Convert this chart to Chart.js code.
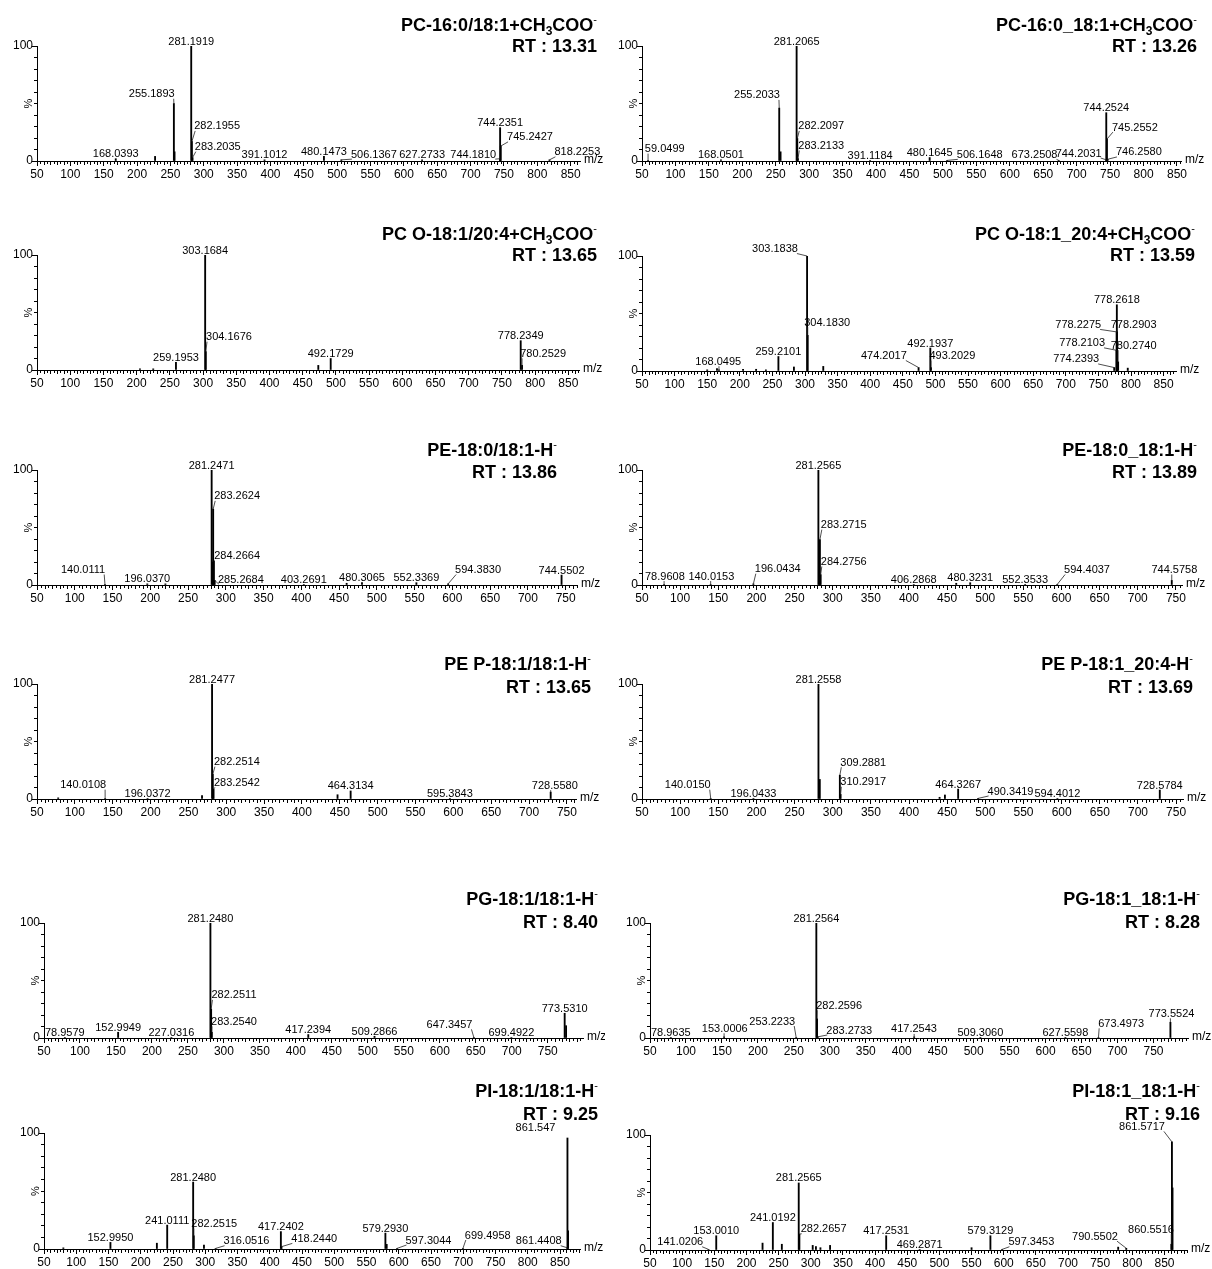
<!DOCTYPE html>
<html>
<head>
<meta charset="utf-8">
<script src="https://cdn.jsdelivr.net/npm/chart.js@4.4.1/dist/chart.umd.min.js"></script>
<style>
  html, body { margin: 0; padding: 0; background: #fff; overflow: hidden; }
  body { width: 1212px; height: 1269px; position: relative; }
  canvas { position: absolute; }
</style>
</head>
<body>
<script>
// ---- spectra: m/z, relative intensity (%), peak label ----
const s1Mz  = [168.04, 227.0, 255.19, 256.2, 281.19, 282.20, 283.20, 391.10, 480.15, 506.14, 627.27, 744.18, 744.24, 745.24, 818.23];
const s1Int = [2, 4, 50, 8, 100, 17, 3, 1, 4, 1, 1, 2, 29, 13, 1];
const s1Lab = ['168.0393', '', '255.1893', '', '281.1919', '282.1955', '283.2035', '391.1012', '480.1473', '506.1367', '627.2733', '744.1810', '744.2351', '745.2427', '818.2253'];

const s2Mz  = [59.05, 168.05, 255.20, 257.2, 281.21, 282.21, 283.21, 391.12, 480.16, 506.16, 673.25, 744.20, 744.25, 745.26, 746.26];
const s2Int = [0.5, 1, 46, 8, 100, 19.6, 2, 0.5, 3, 0.5, 0.5, 1, 42, 19, 1.5];
const s2Lab = ['59.0499', '168.0501', '255.2033', '', '281.2065', '282.2097', '283.2133', '391.1184', '480.1645', '506.1648', '673.2508', '744.2031', '744.2524', '745.2552', '746.2580'];

const s3Mz  = [205, 225, 259.20, 303.17, 304.17, 473.5, 492.17, 778.23, 780.25];
const s3Int = [1, 1, 6.7, 100, 16, 4, 10, 25.5, 4];
const s3Lab = ['', '', '259.1953', '303.1684', '304.1676', '', '492.1729', '778.2349', '780.2529'];

const s4Mz  = [150, 165, 168.05, 205, 225, 240, 259.21, 283, 303.18, 304.18, 328, 474.20, 492.19, 493.20, 774.24, 777.8, 778.0, 778.26, 778.5, 780.27, 795];
const s4Int = [1, 2, 1, 1.5, 1.5, 1, 12.6, 3.5, 100, 31, 4, 3, 20, 3, 3, 18, 34, 57.6, 34, 8, 2.5];
const s4Lab = ['', '', '168.0495', '', '', '', '259.2101', '', '303.1838', '304.1830', '', '474.2017', '492.1937', '493.2029', '774.2393', '778.2103', '778.2275', '778.2618', '778.2903', '780.2740', ''];

const s5Mz  = [140.01, 196.04, 220, 281.25, 282.25, 283.26, 284.27, 285.27, 403.27, 460, 480.31, 552.34, 594.38, 744.55];
const s5Int = [0.5, 1, 1, 100, 20, 66, 21, 4, 0.5, 1.5, 2, 2, 1, 8.6];
const s5Lab = ['140.0111', '196.0370', '', '281.2471', '', '283.2624', '284.2664', '285.2684', '403.2691', '', '480.3065', '552.3369', '594.3830', '744.5502'];

const s6Mz  = [78.96, 140.02, 196.04, 281.26, 282.26, 283.27, 284.28, 406.29, 462, 480.32, 552.35, 594.40, 744.58];
const s6Int = [0.5, 0.5, 1, 100, 9, 39.5, 9, 0.5, 1.5, 2, 0.5, 0.5, 4];
const s6Lab = ['78.9608', '140.0153', '196.0434', '281.2565', '', '283.2715', '284.2756', '406.2868', '', '480.3231', '552.3533', '594.4037', '744.5758'];

const s7Mz  = [78, 140.01, 196.04, 268, 281.25, 282.25, 283.25, 447, 464.31, 595.38, 728.56];
const s7Int = [1, 0.5, 0.5, 3, 100, 21.5, 8.6, 3.7, 7, 0.5, 6];
const s7Lab = ['', '140.0108', '196.0372', '', '281.2477', '282.2514', '283.2542', '', '464.3134', '595.3843', '728.5580'];

const s8Mz  = [140.02, 196.04, 281.26, 283, 309.29, 310.29, 440, 447, 464.33, 490.34, 594.40, 728.58];
const s8Int = [0.5, 0.5, 100, 17, 20.7, 4, 1.5, 3.5, 8.6, 0.5, 0.5, 7.8];
const s8Lab = ['140.0150', '196.0433', '281.2558', '', '309.2881', '310.2917', '', '', '464.3267', '490.3419', '594.4012', '728.5784'];

const s9Mz  = [78.96, 153.0, 227.03, 281.25, 282.25, 283.25, 417.24, 509.29, 647.35, 699.49, 773.53, 775.5];
const s9Int = [0.5, 5, 0.5, 100, 25, 5, 3, 1.5, 0.5, 0.5, 21.5, 10.7];
const s9Lab = ['78.9579', '152.9949', '227.0316', '281.2480', '282.2511', '283.2540', '417.2394', '509.2866', '647.3457', '699.4922', '773.5310', ''];

const s10Mz  = [78.96, 153.0, 253.22, 281.26, 282.26, 283.27, 417.25, 509.31, 627.56, 673.50, 773.55];
const s10Int = [0.5, 1, 0.5, 100, 16.6, 1, 1, 0.5, 0.5, 0.5, 13.7];
const s10Lab = ['78.9635', '153.0006', '253.2233', '281.2564', '282.2596', '283.2733', '417.2543', '509.3060', '627.5598', '673.4973', '773.5524'];

const s11Mz  = [80, 153.0, 225, 241.01, 281.25, 282.25, 298, 316.05, 417.24, 418.24, 579.29, 581.3, 597.30, 699.50, 861.44, 861.55, 862.55];
const s11Int = [1, 5.7, 5, 20.6, 57.7, 11.4, 3.4, 0.5, 15, 2, 13.7, 4, 0.5, 0.5, 1, 95.7, 15.7];
const s11Lab = ['', '152.9950', '', '241.0111', '281.2480', '282.2515', '', '316.0516', '417.2402', '418.2440', '579.2930', '', '597.3044', '699.4958', '861.4408', '861.547', ''];

const s12Mz  = [141.02, 153.0, 225, 241.02, 255, 281.26, 282.27, 303, 308, 315, 330, 417.25, 469.29, 550, 579.31, 597.35, 778, 790.55, 860.55, 861.57, 862.5];
const s12Int = [0.5, 12.4, 6, 23.9, 5, 58.3, 13.8, 4, 3, 2, 4, 12.4, 0.5, 2, 12.4, 0.5, 2.5, 1.5, 5, 94, 54];
const s12Lab = ['141.0206', '153.0010', '', '241.0192', '', '281.2565', '282.2657', '', '', '', '', '417.2531', '469.2871', '', '579.3129', '597.3453', '', '790.5502', '860.5516', '861.5717', ''];

// ~x = subscript, ^x = superscript
const titles = ['PC-16:0/18:1+CH~3COO^-', 'PC-16:0_18:1+CH~3COO^-', 'PC O-18:1/20:4+CH~3COO^-', 'PC O-18:1_20:4+CH~3COO^-',
  'PE-18:0/18:1-H^-', 'PE-18:0_18:1-H^-', 'PE P-18:1/18:1-H^-', 'PE P-18:1_20:4-H^-',
  'PG-18:1/18:1-H^-', 'PG-18:1_18:1-H^-', 'PI-18:1/18:1-H^-', 'PI-18:1_18:1-H^-'];
const rtValues = ['13.31', '13.26', '13.65', '13.59', '13.86', '13.89', '13.65', '13.69', '8.40', '8.28', '9.25', '9.16'];

// ---- label placement: [label centre m/z, label bottom %, leader?] ; null = just above the peak ----
const place = [
  [null, null, [222, 55], null, null, [320, 27], [321, 9], null, null, [555, 2.5], null, [704, 2.5], null, [789, 17.5], [860, 4.5]],
  [[84, 7.3], null, [222, 54], null, null, [318, 27], [318, 10], null, null, [555, 2.3], [637, 2.3], [703, 3.5], null, [787, 26], [793, 4.4]],
  [null, null, null, null, [339, 25.5], null, null, null, [812, 11]],
  [null, null, [167, 5], null, null, null, null, null, [254, 103], [334, 39], null, [421, 10], null, [526, 10], [716, 7], [725, 21], [719, 37], null, [804, 37], [804, 19], null],
  [[111, 10], null, null, null, null, [315, 74], [315, 22], [320, 1.5], null, null, null, null, [634, 10], null],
  [[80, 4.3], [141, 4.3], [228, 10.7], null, null, [314.5, 49], [314.5, 17], null, null, null, null, [633.5, 10], [748, 10]],
  [null, [111, 9], null, null, null, [314, 29], [314, 11], null, null, null, [734, 8.6]],
  [[110, 9], null, null, null, [340, 28.5], [340, 11.5], null, null, null, [533, 3.5], null, null],
  [null, null, null, null, [314, 34], [314, 11], null, null, [613.5, 8.4], null, null, null],
  [null, [154, 5], [220, 11.3], null, [313, 25], [327, 3.5], [417, 4.4], null, null, [705, 9.3], [775, 18]],
  [null, null, null, null, null, [314, 18.6], null, [364, 3.7], null, [469, 5.7], null, null, [646, 4.3], [738, 8.6], [817, 3.7], [812, 101, false], null],
  [[97, 3.7], null, null, null, null, null, [320, 15], null, null, null, null, null, null, null, null, [643, 3.7], null, [742, 8.6], [829, 14.7], [815, 104], null]
];

// ---- panel frames (page pixels) ----
const frames = [
  { col: 0,   ax: 37,  end: 580,  xmax: 864, top: 46,   bot: 161,  tr: 597,  ty: 24,   ry: 45 },
  { col: 605, ax: 642, end: 1181, xmax: 856, top: 46,   bot: 161,  tr: 1197, ty: 24,   ry: 45 },
  { col: 0,   ax: 37,  end: 579,  xmax: 866, top: 255,  bot: 370,  tr: 597,  ty: 233,  ry: 254 },
  { col: 605, ax: 642, end: 1176, xmax: 869, top: 256,  bot: 371,  tr: 1195, ty: 233,  ry: 254 },
  { col: 0,   ax: 37,  end: 577,  xmax: 765, top: 470,  bot: 585,  tr: 557,  ty: 449,  ry: 471 },
  { col: 605, ax: 642, end: 1182, xmax: 758, top: 470,  bot: 585,  tr: 1197, ty: 449,  ry: 471 },
  { col: 0,   ax: 37,  end: 576,  xmax: 762, top: 684,  bot: 799,  tr: 591,  ty: 663,  ry: 686 },
  { col: 605, ax: 642, end: 1183, xmax: 759, top: 684,  bot: 799,  tr: 1193, ty: 663,  ry: 686 },
  { col: 0,   ax: 44,  end: 583,  xmax: 799, top: 923,  bot: 1038, tr: 598,  ty: 898,  ry: 921 },
  { col: 605, ax: 650, end: 1188, xmax: 798, top: 923,  bot: 1038, tr: 1200, ty: 898,  ry: 921 },
  { col: 0,   ax: 44,  end: 580,  xmax: 881, top: 1133, bot: 1249, tr: 598,  ty: 1090, ry: 1113 },
  { col: 605, ax: 650, end: 1187, xmax: 885, top: 1135, bot: 1250, tr: 1200, ty: 1090, ry: 1113 }
];

const spectra = [
  [s1Mz, s1Int, s1Lab], [s2Mz, s2Int, s2Lab], [s3Mz, s3Int, s3Lab], [s4Mz, s4Int, s4Lab],
  [s5Mz, s5Int, s5Lab], [s6Mz, s6Int, s6Lab], [s7Mz, s7Int, s7Lab], [s8Mz, s8Int, s8Lab],
  [s9Mz, s9Int, s9Lab], [s10Mz, s10Int, s10Lab], [s11Mz, s11Int, s11Lab], [s12Mz, s12Int, s12Lab]
];

const FAM = '"Liberation Sans", Arial, sans-serif';
const PAD_TOP = 60;
const AXIS_H = 26;
Chart.defaults.font.family = FAM;
Chart.defaults.color = '#000';

function richParts(s) {
  const out = [];
  for (let k = 0; k < s.length; k++) {
    const c = s[k];
    if (c === '~' || c === '^') { out.push([s[k + 1], c]); k++; }
    else if (out.length && out[out.length - 1][1] === '') out[out.length - 1][0] += c;
    else out.push([c, '']);
  }
  return out;
}

function drawTitle(ctx, s, right, cy) {
  const parts = richParts(s);
  const fontOf = k => k === '~' ? 'bold 12px ' + FAM : k === '^' ? '11px ' + FAM : 'bold 18px ' + FAM;
  let w = 0;
  parts.forEach(p => { ctx.font = fontOf(p[1]); w += ctx.measureText(p[0]).width; });
  let x = right - w;
  const base = cy + 6.5;
  ctx.textAlign = 'left';
  ctx.textBaseline = 'alphabetic';
  parts.forEach(p => {
    ctx.font = fontOf(p[1]);
    const dy = p[1] === '~' ? 4 : p[1] === '^' ? -8 : 0;
    ctx.fillText(p[0], x, base + dy);
    x += ctx.measureText(p[0]).width;
  });
}

// axis decorations, peak labels and title
const decor = {
  id: 'decor',
  afterDraw(chart) {
    const { ctx, chartArea: a, scales: { x, y } } = chart;
    const i = chart.options.plugins.decor.index;
    const f = frames[i];
    const [mz, inten, lab] = spectra[i];
    const pl = place[i];
    ctx.save();
    ctx.strokeStyle = '#000';
    ctx.lineWidth = 1;

    // minor x ticks
    ctx.beginPath();
    for (let v = 55; v <= f.xmax; v += 5) {
      if (v % 50 === 0) continue;
      const px = Math.round(x.getPixelForValue(v)) + 0.5;
      const len = v % 10 === 0 ? 4 : 3;
      ctx.moveTo(px, a.bottom);
      ctx.lineTo(px, a.bottom + len);
    }
    // longer y ticks at 0 and 100
    [0, 100].forEach(v => {
      const py = Math.round(y.getPixelForValue(v)) + 0.5;
      ctx.moveTo(a.left - 5, py);
      ctx.lineTo(a.left, py);
    });
    ctx.stroke();

    // % and m/z
    ctx.fillStyle = '#000';
    ctx.font = '11px ' + FAM;
    ctx.save();
    ctx.translate(a.left - 8, y.getPixelForValue(50));
    ctx.rotate(-Math.PI / 2);
    ctx.textAlign = 'center';
    ctx.textBaseline = 'middle';
    ctx.fillText('%', 0, 0);
    ctx.restore();
    ctx.font = '12px ' + FAM;
    ctx.textAlign = 'left';
    ctx.textBaseline = 'middle';
    ctx.fillText('m/z', a.right + 4, a.bottom - 1);

    // peak labels with leaders
    ctx.font = '11px ' + FAM;
    ctx.strokeStyle = '#222';
    ctx.lineWidth = 0.8;
    lab.forEach((t, k) => {
      if (!t) return;
      const px = x.getPixelForValue(mz[k]);
      const py = y.getPixelForValue(inten[k]);
      const p = pl[k];
      let cx = px, by = py - 1;
      if (p) { cx = x.getPixelForValue(p[0]); by = y.getPixelForValue(p[1]); }
      const w = ctx.measureText(t).width;
      ctx.textAlign = 'center';
      ctx.textBaseline = 'bottom';
      ctx.fillText(t, cx, by + 2);
      if (p && p[2] !== false) {
        const sx = Math.min(Math.max(px, cx - w / 2 + 1), cx + w / 2 - 1);
        if (Math.hypot(sx - px, by - py) > 2) {
          ctx.beginPath();
          ctx.moveTo(sx, by + 1);
          ctx.lineTo(px, py);
          ctx.stroke();
        }
      }
    });

    // title and retention time
    ctx.fillStyle = '#000';
    const top0 = f.top - PAD_TOP;
    drawTitle(ctx, titles[i], f.tr - f.col, f.ty - top0);
    drawTitle(ctx, 'RT : ' + rtValues[i], f.tr - f.col, f.ry - top0);
    ctx.restore();
  }
};

frames.forEach((f, i) => {
  const W = f.col ? 607 : 605;
  const H = PAD_TOP + (f.bot - f.top) + AXIS_H;
  const cv = document.createElement('canvas');
  cv.width = W;
  cv.height = H;
  cv.style.left = f.col + 'px';
  cv.style.top = (f.top - PAD_TOP) + 'px';
  cv.style.width = W + 'px';
  cv.style.height = H + 'px';
  document.body.appendChild(cv);

  const [mz, inten] = spectra[i];
  new Chart(cv, {
    type: 'bar',
    data: {
      datasets: [{
        data: mz.map((m, k) => ({ x: m, y: inten[k] })),
        backgroundColor: '#000',
        barThickness: 1.2,
        grouped: false
      }]
    },
    options: {
      responsive: false,
      animation: false,
      events: [],
      layout: { padding: { left: 0, top: PAD_TOP, right: W - (f.end - f.col), bottom: 0 } },
      plugins: { legend: { display: false }, tooltip: { enabled: false }, decor: { index: i } },
      scales: {
        x: {
          type: 'linear',
          min: 50,
          max: f.xmax,
          offset: false,
          grid: { offset: false, drawOnChartArea: false, drawTicks: true, tickLength: 5, color: '#000' },
          border: { color: '#000', width: 1 },
          ticks: { autoSkip: false, maxRotation: 0, padding: 1, font: { size: 12 }, color: '#000',
                   callback: v => String(v) },
          afterBuildTicks: s => {
            const t = [];
            for (let v = 50; v <= f.xmax; v += 50) t.push({ value: v });
            s.ticks = t;
          },
          afterFit: s => { s.height = AXIS_H; }
        },
        y: {
          min: 0,
          max: 100,
          grid: { drawOnChartArea: false, drawTicks: true, tickLength: 3, color: '#000' },
          border: { color: '#000', width: 1 },
          ticks: { stepSize: 10, autoSkip: false, padding: 1, font: { size: 12 }, color: '#000',
                   callback: v => (v === 0 || v === 100) ? String(v) : '' },
          afterFit: s => { s.width = f.ax - f.col; }
        }
      }
    },
    plugins: [decor]
  });
});
</script>
</body>
</html>
